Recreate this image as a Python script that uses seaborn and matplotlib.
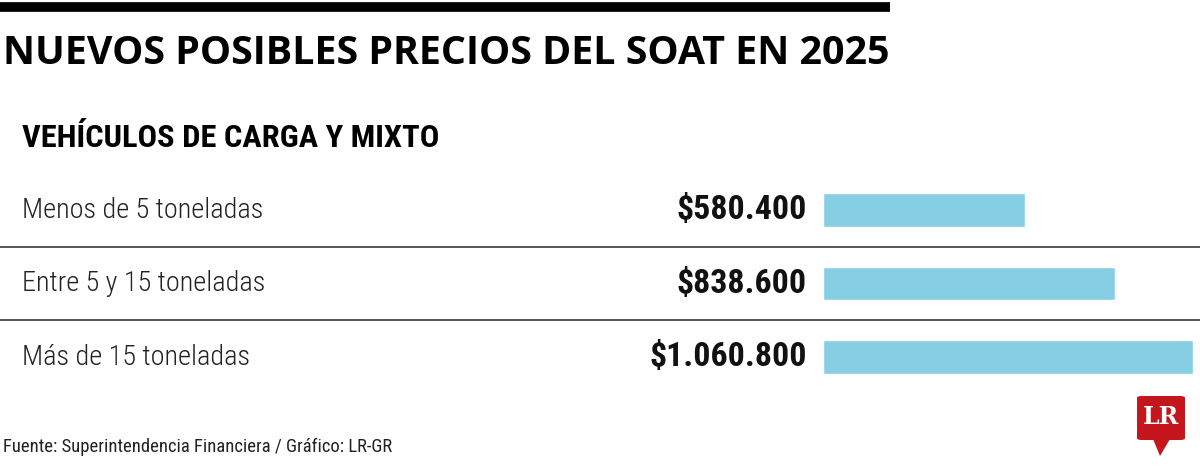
import matplotlib
matplotlib.use('Agg')
import matplotlib.pyplot as plt
import seaborn as sns
import pandas as pd
from matplotlib import font_manager
from matplotlib.patches import FancyBboxPatch, Polygon
from matplotlib.lines import Line2D

# Data
categories = ['Menos de 5 toneladas', 'Entre 5 y 15 toneladas', 'Más de 15 toneladas']
prices = [580400, 838600, 1060800]
price_labels = ['$580.400', '$838.600', '$1.060.800']

title = 'NUEVOS POSIBLES PRECIOS DEL SOAT EN 2025'
subtitle = 'VEHÍCULOS DE CARGA Y MIXTO'
source = 'Fuente: Superintendencia Financiera / Gráfico: LR-GR'

df = pd.DataFrame({'category': categories, 'price': prices})


def pick_font(names):
    for name in names:
        try:
            font_manager.findfont(font_manager.FontProperties(family=name), fallback_to_default=False)
            return name
        except Exception:
            continue
    return 'DejaVu Sans'


narrow = pick_font(['Liberation Sans Narrow', 'DejaVu Sans Condensed', 'Roboto Condensed', 'Liberation Sans'])
title_font = pick_font(['Open Sans', 'Noto Sans', 'DejaVu Sans'])

sns.set_style('white')
plt.rcParams['font.family'] = [narrow, 'DejaVu Sans']

W, H = 1200, 469
fig = plt.figure(figsize=(W / 100, H / 100), dpi=100)
fig.patch.set_facecolor('white')

# bar axes: bars start at x=823px, longest ends at 1193px
ax_left, ax_right = 823, 1193
row_top, row_bottom = 173.25, 393.75
ax = fig.add_axes([ax_left / W, 1 - row_bottom / H, (ax_right - ax_left) / W, (row_bottom - row_top) / H])

sns.barplot(data=df, y='category', x='price', orient='h', color='#86CEE4',
            width=0.45, saturation=1, ax=ax)
ax.set_xlim(0, max(prices))
ax.set_ylim(2.5, -0.5)
ax.axis('off')

# separator lines across full width
for y in [0.5, 1.5]:
    ax.axhline(y, xmin=-ax_left / (ax_right - ax_left), xmax=(W - ax_left) / (ax_right - ax_left),
               color='#555555', lw=1.4, clip_on=False)

# row labels and values
for i, (cat, lab) in enumerate(zip(categories, price_labels)):
    ax.text(-ax_left / (ax_right - ax_left) + 22 / (ax_right - ax_left), i, cat,
            transform=ax.get_yaxis_transform(), ha='left', va='center',
            fontsize=20.3, fontweight='light', color='#222222')
    ax.text(-16 / (ax_right - ax_left), i, lab, transform=ax.get_yaxis_transform(),
            ha='right', va='center', fontsize=24.4, fontweight='bold', color='#111111')

# top black rule
fig.add_artist(Line2D([0, 890 / W], [1 - 7.5 / H, 1 - 7.5 / H], color='black', lw=7,
                      solid_capstyle='butt'))

fig.text(3 / W, 1 - 53 / H, title, ha='left', va='center', fontsize=28.4,
         fontweight='bold', family=title_font, color='black')
fig.text(22 / W, 1 - 138 / H, subtitle, ha='left', va='center', fontsize=23.3,
         fontweight='bold', color='black')
fig.text(3 / W, 1 - 447 / H, source, ha='left', va='center', fontsize=13.4, color='#222222')

# LR logo
logo = FancyBboxPatch((1137 / W, 1 - 440 / H), 48 / W, 44 / H,
                      boxstyle='round,pad=0,rounding_size=0.004', transform=fig.transFigure,
                      facecolor='#C4161C', edgecolor='none')
fig.add_artist(logo)
tail = Polygon([[1153 / W, 1 - 439 / H], [1170 / W, 1 - 439 / H], [1160 / W, 1 - 456 / H]],
               closed=True, transform=fig.transFigure, facecolor='#C4161C', edgecolor='none')
fig.add_artist(tail)
fig.text(1161 / W, 1 - 417 / H, 'LR', ha='center', va='center', fontsize=17,
         fontweight='bold', family='DejaVu Serif', color='white')

fig.savefig('out.png', dpi=100, facecolor='white')
